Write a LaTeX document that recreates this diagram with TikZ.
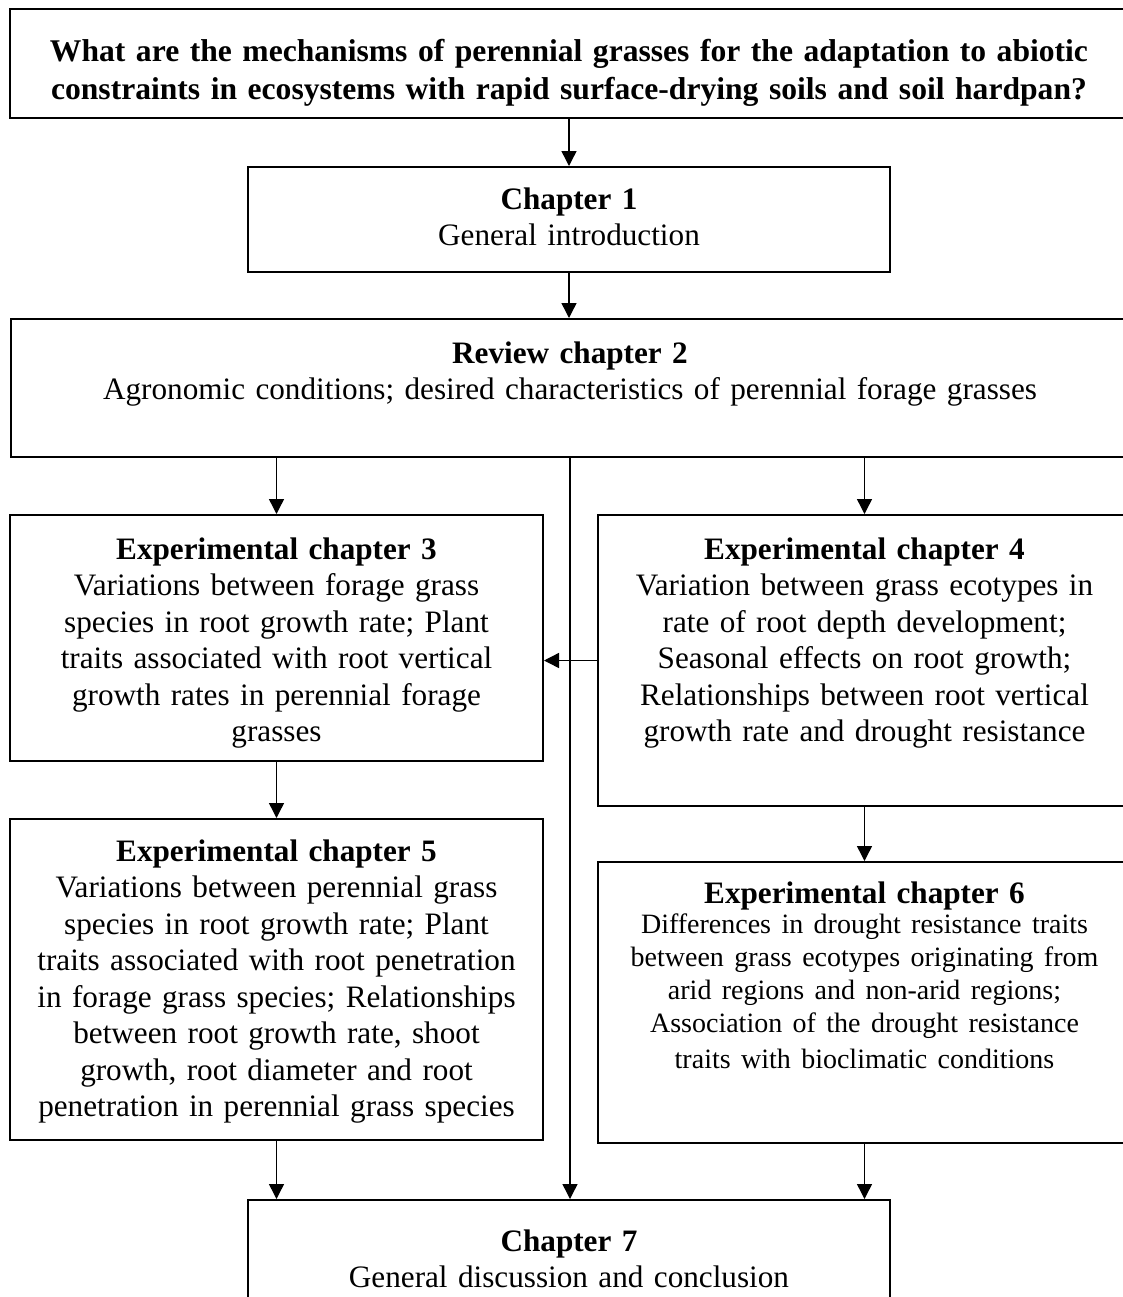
\documentclass[tikz,border=0pt]{standalone}
\usepackage{fontspec}
\setmainfont{Liberation Serif}
\usetikzlibrary{positioning}
\usetikzlibrary{arrows.meta}
\newcommand{\chead}[1]{\textbf{#1}}
\newcommand{\smalltxt}{\fontsize{14}{16.5}\selectfont}

\begin{document}
\begin{tikzpicture}
  [
    x=0.5pt,y=-0.5pt,
    font=\fontsize{15.6}{18.25}\selectfont,
    chapbox/.style={
      rectangle,
      draw,
      line width=1pt,
      inner sep=0pt,
      anchor=north west,
      align=center
    },
    widebox/.style={chapbox,text width=559pt},
    midbox/.style={chapbox,text width=321pt},
    halfbox/.style={chapbox,text width=266.5pt},
    flow/.style={-{Triangle[length=7.5pt,width=7.5pt]},line width=0.7pt},
  ]
  \useasboundingbox (0,0) rectangle (1123,1297);
  \clip (0,0) rectangle (1123,1297);

  \node[widebox,text height=26pt,text depth=28.5pt,
        font=\fontsize{15.8}{19}\selectfont\bfseries] (question) at (9,8)
    {What are the mechanisms of perennial grasses for the adaptation to abiotic\\
     constraints in ecosystems with rapid surface-drying soils and soil hardpan?};
  \node[midbox,text height=21pt,text depth=31.5pt] (ch1) at (247,166)
    {\chead{Chapter 1}\\General introduction};
  \node[widebox,text height=22pt,text depth=47pt] (rev) at (10,318)
    {\chead{Review chapter 2}\\
     Agronomic conditions; desired characteristics of perennial forage grasses};
  \node[halfbox,text height=22pt,text depth=101pt] (ex3) at (9,514)
    {\chead{Experimental chapter 3}\\
     Variations between forage grass\\
     species in root growth rate; Plant\\
     traits associated with root vertical\\
     growth rates in perennial forage\\
     grasses};
  \node[halfbox,text height=22pt,text depth=123.5pt] (ex4) at (597,514)
    {\chead{Experimental chapter 4}\\
     Variation between grass ecotypes in\\
     rate of root depth development;\\
     Seasonal effects on root growth;\\
     Relationships between root vertical\\
     growth rate and drought resistance};
  \node[halfbox,text height=21pt,text depth=139.5pt] (ex5) at (9,818)
    {\chead{Experimental chapter 5}\\
     Variations between perennial grass\\
     species in root growth rate; Plant\\
     traits associated with root penetration\\
     in forage grass species; Relationships\\
     between root growth rate, shoot\\
     growth, root diameter and root\\
     penetration in perennial grass species};
  \node[halfbox,text height=20.5pt,text depth=120pt] (ex6) at (597,861)
    {\chead{Experimental chapter 6}\\[-1.5pt]
     \smalltxt Differences in drought resistance traits\\
     \smalltxt between grass ecotypes originating from\\
     \smalltxt arid regions and non-arid regions;\\
     \smalltxt Association of the drought resistance\\
     \smalltxt traits with bioclimatic conditions};
  \node[midbox,text height=25.5pt,text depth=40pt] (ch7) at (247,1199)
    {\chead{Chapter 7}\\General discussion and conclusion};

  \draw[flow] (question.south) -- (question.south |- ch1.north);
  \draw[flow] (ch1.south) -- (ch1.south |- rev.north);
  \draw[flow] (ex3.north |- rev.south) -- (ex3.north);
  \draw[flow] (ex4.north |- rev.south) -- (ex4.north);
  \draw[flow] (rev.south) -- (rev.south |- ch7.north);
  \draw[flow] (ex4.west) -- (ex4.west -| ex3.east);
  \draw[flow] (ex3.south) -- (ex5.north);
  \draw[flow] (ex4.south) -- (ex6.north);
  \draw[flow] (ex5.south) -- (ex5.south |- ch7.north);
  \draw[flow] (ex6.south) -- (ex6.south |- ch7.north);
\end{tikzpicture}
\end{document}
